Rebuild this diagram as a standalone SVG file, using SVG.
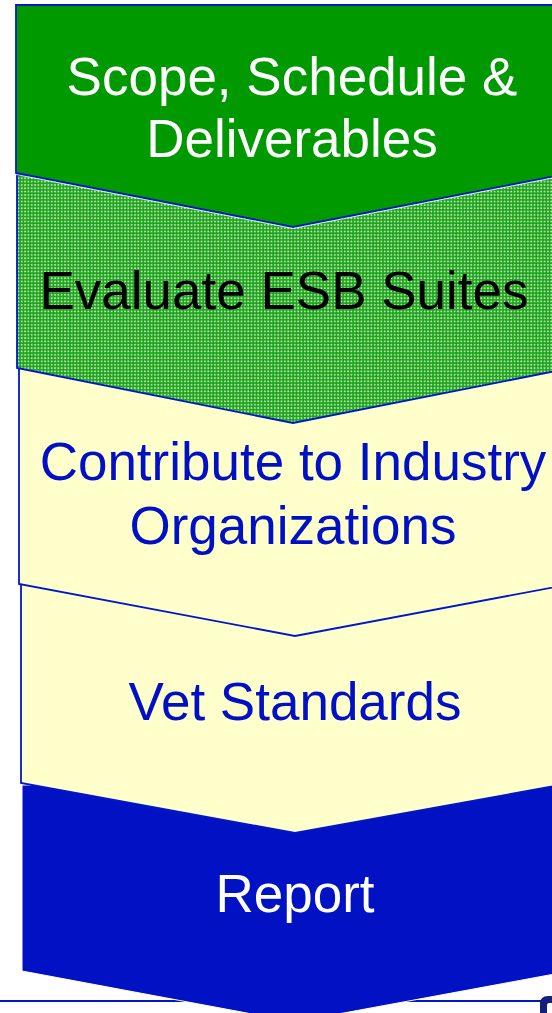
<svg xmlns="http://www.w3.org/2000/svg" width="552" height="1013" viewBox="0 0 552 1013">
  <defs>
    <pattern id="dots" x="0" y="0" width="3.33" height="3.33" patternUnits="userSpaceOnUse">
      <rect width="3.33" height="3.33" fill="#1ea41e"/>
      <rect x="1" y="1" width="1.6" height="1.6" fill="#d4f2c4"/>
    </pattern>
    <style>
      text { font-family: "Liberation Sans", Arial, sans-serif; font-size: 53px; text-anchor: middle; }
      .edge { stroke: #0018c8; stroke-width: 1.8; stroke-linejoin: miter; }
      .white { fill: #ffffff; }
      .blue { fill: #0010c4; }
      .black { fill: #000000; }
    </style>
  </defs>
  <rect width="552" height="1013" fill="#ffffff"/>
  <g id="connectors">
    <line x1="0" y1="1001" x2="552" y2="1001" stroke="#0018c0" stroke-width="2"/>
  </g>
  <g id="report">
    <path d="M22,785 L571,785 L571,971 L295,1022 L22,971 Z" fill="#0012c4" stroke="#ffffff" stroke-width="1"/>
    <text x="295" y="912" class="white">Report</text>
  </g>
  <g id="vet-standards">
    <path d="M21,584 L571,584 L571,783 L295,833 L21,783 Z" fill="#ffffcc" class="edge"/>
    <text x="295" y="720" class="blue">Vet Standards</text>
  </g>
  <g id="contribute">
    <path d="M19,368 L571,368 L571,584 L295,636 L19,584 Z" fill="#ffffcc" class="edge"/>
    <text x="293" y="480" class="blue">Contribute to Industry</text>
    <text x="293" y="544" class="blue">Organizations</text>
  </g>
  <g id="evaluate">
    <path d="M17,175 L571,175 L571,368 L293,423 L17,368 Z" fill="url(#dots)" class="edge" stroke-width="2"/>
    <text x="284" y="309" class="black">Evaluate ESB Suites</text>
  </g>
  <g id="scope">
    <path d="M16,5 L571,5 L571,173 L293,227 L16,173 Z" fill="#009900" class="edge" stroke-width="2.5"/>
    <path d="M16,174.5 L293,228.5 L571,174.5" fill="none" stroke="#ffffff" stroke-width="0.8"/>
    <text x="292" y="95" class="white">Scope, Schedule &amp;</text>
    <text x="292" y="157" class="white">Deliverables</text>
  </g>
  <g id="logo">
    <path d="M540,1013 L540,1004 Q540,996 548,996 L552,996 L552,1003 L549,1003 Q547,1003 547,1006 L547,1013 Z" fill="#14207a"/>
  </g>
</svg>
